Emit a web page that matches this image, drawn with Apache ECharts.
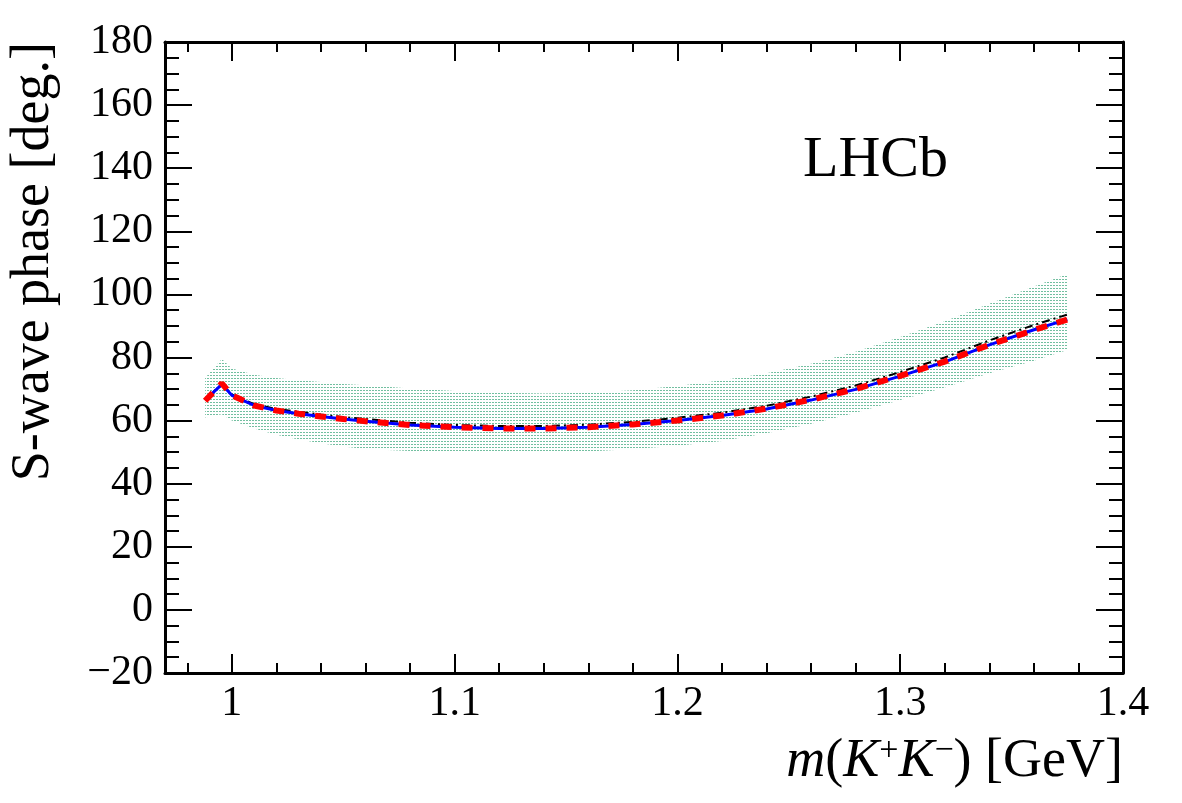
<!DOCTYPE html>
<html>
<head>
<meta charset="utf-8">
<script src="https://cdn.jsdelivr.net/npm/echarts@6/dist/echarts.min.js"></script>
<style>
  html, body { margin: 0; padding: 0; background: #fff; }
  #chart { width: 1182px; height: 803px; }
</style>
</head>
<body>
<div id="chart"></div>
<script>
// Fase de la onda S frente a m(K+K-)
const masas = [0.988, 0.9955, 1.0, 1.01, 1.02, 1.03, 1.04, 1.05, 1.06, 1.08, 1.10, 1.12, 1.14,
  1.16, 1.18, 1.20, 1.22, 1.24, 1.26, 1.28, 1.30, 1.32, 1.34, 1.36, 1.375];
const faseAzul = [66.5, 71.5, 68.0, 64.8, 63.2, 62.2, 61.3, 60.5, 59.8, 58.6, 57.9, 57.5, 57.5,
  57.9, 58.8, 60.0, 61.6, 63.7, 66.5, 69.9, 74.1, 78.6, 84.0, 88.8, 92.1];
const faseRoja = [66.3, 71.8, 68.0, 64.8, 63.2, 62.2, 61.3, 60.5, 59.8, 58.6, 57.9, 57.5, 57.5,
  57.9, 58.8, 60.0, 61.6, 63.8, 66.6, 70.0, 74.2, 78.7, 84.0, 88.7, 92.0];
const faseNegra = [66.8, 71.5, 68.3, 65.2, 63.7, 62.8, 61.9, 61.1, 60.5, 59.3, 58.6, 58.3, 58.3,
  58.7, 59.6, 60.9, 62.5, 64.7, 67.6, 71.1, 75.4, 80.0, 85.4, 90.3, 93.6];
const bandaAlta = [73.5, 79.5, 76.5, 74.5, 73.5, 72.8, 72.2, 71.6, 71.2, 70.2, 69.4, 68.8, 68.6,
  68.8, 69.6, 71.0, 72.8, 75.0, 78.0, 81.8, 86.5, 91.5, 97.0, 102.5, 106.5];
const bandaBaja = [61.0, 62.0, 60.0, 57.5, 55.5, 54.0, 52.8, 51.8, 51.0, 50.4, 50.1, 50.0, 50.0,
  50.2, 51.0, 52.0, 53.5, 56.0, 59.0, 62.5, 66.5, 70.5, 75.0, 79.0, 82.4];
const ticksX = [1.0, 1.1, 1.2, 1.3, 1.4];
const ticksXMenores = [0.98, 1.0, 1.02, 1.04, 1.06, 1.08, 1.10, 1.12, 1.14, 1.16, 1.18, 1.20,
  1.22, 1.24, 1.26, 1.28, 1.30, 1.32, 1.34, 1.36, 1.38, 1.40];

const fuente = 'Liberation Serif, "Times New Roman", serif';
const pares = (ys) => masas.map((m, i) => [m, ys[i]]);

// Patrón punteado para la banda de incertidumbre
const patron = document.createElement('canvas');
patron.width = 3;
patron.height = 3;
const pctx = patron.getContext('2d');
pctx.fillStyle = '#fff';
pctx.fillRect(0, 0, 3, 3);
pctx.fillStyle = '#72bfa0';
pctx.fillRect(0, 0, 2, 1);

const chart = echarts.init(document.getElementById('chart'));

function ejeX(pos, mayor) {
  return {
    type: 'value', position: pos, min: 0.97, max: 1.4,
    axisLine: { show: mayor, onZero: false, lineStyle: { color: '#000', width: 3 } },
    axisTick: {
      inside: true, length: mayor ? 19 : 10,
      customValues: mayor ? ticksX : ticksXMenores,
      lineStyle: { color: '#000', width: 2 }
    },
    axisLabel: {
      show: mayor && pos === 'bottom', customValues: ticksX,
      fontFamily: fuente, fontSize: 42, color: '#000', margin: 10,
      formatter: (v) => String(+v.toFixed(2))
    },
    splitLine: { show: false }
  };
}

function ejeY(pos) {
  return {
    type: 'value', position: pos, min: -20, max: 180, interval: 20,
    axisLine: { show: true, onZero: false, lineStyle: { color: '#000', width: 3 } },
    axisTick: { inside: true, length: 27, lineStyle: { color: '#000', width: 2 } },
    minorTick: { show: true, splitNumber: 4, length: 14, lineStyle: { color: '#000', width: 2 } },
    axisLabel: {
      show: pos === 'left', fontFamily: fuente, fontSize: 42, color: '#000', margin: 12,
      formatter: (v) => String(v).replace('-', '\u2212')
    },
    splitLine: { show: false }
  };
}

const option = {
  backgroundColor: '#fff',
  animation: false,
  grid: { left: 165, right: 59, top: 42, bottom: 130 },
  xAxis: [ejeX('bottom', true), ejeX('bottom', false), ejeX('top', true), ejeX('top', false)],
  yAxis: [ejeY('left'), ejeY('right')],
  graphic: [
    {
      type: 'text', left: 803, top: 132,
      style: { text: 'LHCb', font: '58px ' + fuente, fill: '#000' }
    },
    {
      type: 'text', x: 34, y: 42, rotation: Math.PI / 2,
      style: {
        text: 'S-wave phase [deg.]', font: '54px ' + fuente, fill: '#000',
        align: 'right', verticalAlign: 'middle'
      }
    },
    {
      type: 'text', x: 1123, y: 762,
      style: {
        text: '{i|m}({i|K}{s|+}{i|K}{s|\u2212}) [GeV]',
        font: '54px ' + fuente, fill: '#000', align: 'right', verticalAlign: 'middle',
        rich: {
          i: { fontFamily: fuente, fontSize: 54, fontStyle: 'italic', fill: '#000' },
          s: { fontFamily: fuente, fontSize: 34, fill: '#000', verticalAlign: 'top', padding: [0, 0, 22, 0] }
        }
      }
    }
  ],
  series: [
    {
      name: 'banda', type: 'custom', silent: true, z: 1,
      data: masas.map((m, i) => [m, bandaBaja[i], bandaAlta[i]]),
      renderItem: function (params, api) {
        if (params.dataIndex !== 0) return null;
        const puntos = [];
        masas.forEach((m, i) => puntos.push(api.coord([m, bandaAlta[i]])));
        for (let i = masas.length - 1; i >= 0; i--) puntos.push(api.coord([masas[i], bandaBaja[i]]));
        return {
          type: 'polygon',
          shape: { points: puntos },
          style: { fill: { image: patron, repeat: 'repeat' } }
        };
      }
    },
    {
      name: 'negra', type: 'line', data: pares(faseNegra), symbol: 'none', silent: true,
      lineStyle: { color: '#000', width: 2, type: [8, 4, 2, 4] }
    },
    {
      name: 'azul', type: 'line', data: pares(faseAzul), symbol: 'none', silent: true,
      lineStyle: { color: '#0000ff', width: 3 }
    },
    {
      name: 'roja', type: 'line', data: pares(faseRoja), symbol: 'none', silent: true,
      lineStyle: { color: '#ff0000', width: 6, type: [11, 10] }
    }
  ]
};

chart.setOption(option);
</script>
</body>
</html>
